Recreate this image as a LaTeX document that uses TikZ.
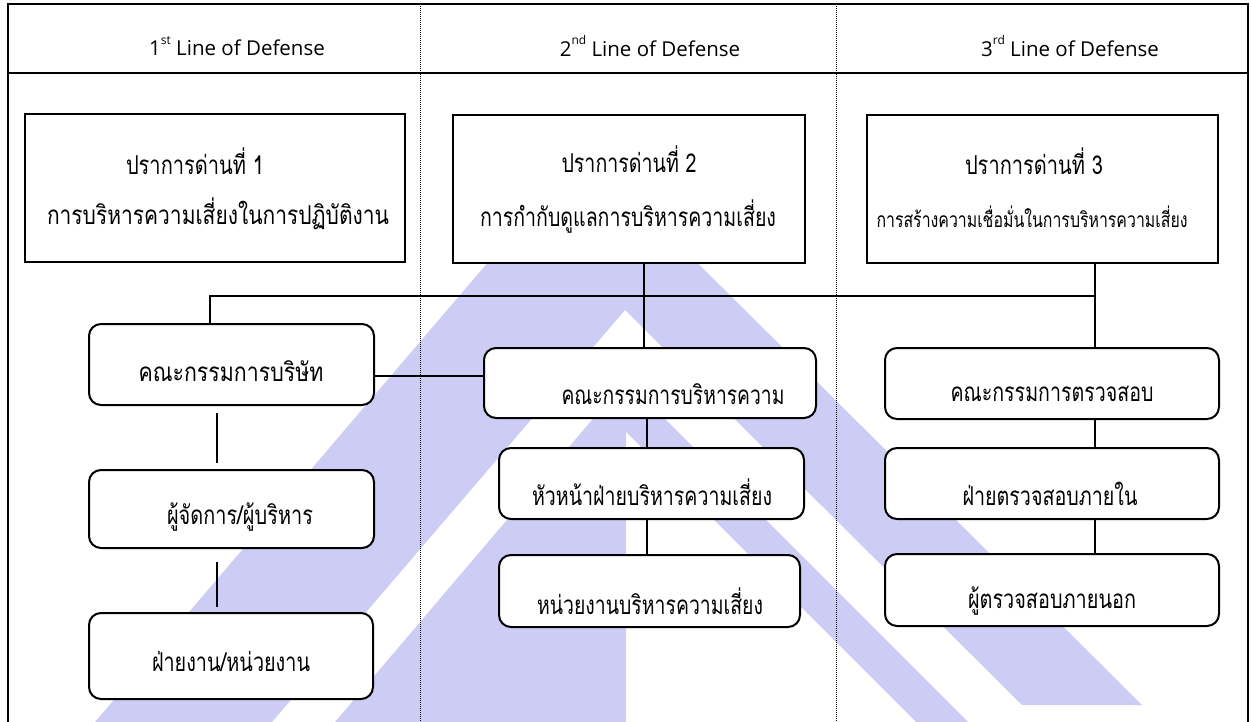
\documentclass[tikz,border=0pt]{standalone}
\usepackage{fontspec}
\setmainfont{Open Sans}
\newfontfamily\thaifont[Script=Thai]{Loma}
\usetikzlibrary{calc}
\definecolor{wm}{RGB}{204,204,245}
\newsavebox\fitbox
\newcommand\fitw[2]{\sbox\fitbox{#2}\pgfmathsetmacro\fitsx{#1/\wd\fitbox}\scalebox{\fitsx}[1]{\usebox\fitbox}}
\newcommand\sups[1]{\raisebox{0.55em}{\fontsize{12}{12}\selectfont #1}}
\tikzset{
  topbox/.style={draw=black, line width=2pt, fill=white, rectangle},
  rbox/.style={draw=black, line width=2pt, fill=white, rounded corners=12pt},
  conn/.style={draw=black, line width=1.6pt},
  lbl/.style={inner sep=0pt, font=\thaifont\fontsize{26}{30}\selectfont},
  hdr/.style={inner sep=0pt, font=\fontsize{20.5}{24}\selectfont},
}
\newcommand\boxat[5]{\node[#5, minimum width=#3pt-2pt, minimum height=#4pt-2pt, inner sep=0pt] (#1) at (#2) {};}
\begin{document}
\begin{tikzpicture}[x=1pt,y=-1pt]
\useasboundingbox (0,0) rectangle (1252,722);
\begin{scope}
\clip (0,0) rectangle (1252,722);
% watermark
\fill[wm] (95,722) -- (584,150) -- (1142,705) -- (1022,705) -- (625,310) -- (272,722) -- cycle;
\fill[wm] (626,380) -- (626,722) -- (335,722) -- cycle;
\fill[wm] (626,380) -- (968,722) -- (916,722) -- (626,432) -- cycle;
% frame
\draw[line width=2.4pt] (8,730) -- (8,4) -- (1248,4) -- (1248,730);
\draw[line width=2.4pt] (8,73) -- (1248,73);
\draw[line width=0.8pt, dash pattern=on 1pt off 1pt] (420,4) -- (420,730);
\draw[line width=0.8pt, dash pattern=on 1pt off 1pt] (836,4) -- (836,730);
\end{scope}
% headers
\node[hdr] (h1) at (237,46) {1\sups{st} Line of Defense};
\node[hdr] (h2) at (650,46) {2\sups{nd} Line of Defense};
\node[hdr] (h3) at (1070,46) {3\sups{rd} Line of Defense};
% top boxes
\boxat{t1}{215,188}{382}{150}{topbox}
\boxat{t2}{629,189}{354}{150}{topbox}
\boxat{t3}{1042.5,189}{353}{150}{topbox}
\node[lbl] (t1a) at (195,161) {\fitw{138}{ปราการด่านที่ 1}};
\node[lbl] (t1b) at (218,214) {\fitw{342}{การบริหารความเสี่ยงในการปฏิบัติงาน}};
\node[lbl] (t2a) at (629,159) {\fitw{135}{ปราการด่านที่ 2}};
\node[lbl] (t2b) at (628,217) {\fitw{296}{การกำกับดูแลการบริหารความเสี่ยง}};
\node[lbl] (t3a) at (1034,161) {\fitw{138}{ปราการด่านที่ 3}};
\node[lbl, font=\thaifont\fontsize{21}{24}\selectfont] (t3b) at (1032,217) {\fitw{311}{การสร้างความเชื่อมั่นในการบริหารความเสี่ยง}};
% rounded boxes
\boxat{a1}{231.5,364.5}{287}{83}{rbox}
\boxat{a2}{231.5,509}{287}{80}{rbox}
\boxat{a3}{231,656}{286}{88}{rbox}
\boxat{b1}{650,383}{334}{72}{rbox}
\boxat{b2}{651.5,483.5}{307}{73}{rbox}
\boxat{b3}{649.5,591}{303}{74}{rbox}
\boxat{c1}{1052,383.5}{336}{73}{rbox}
\boxat{c2}{1052,483.5}{336}{73}{rbox}
\boxat{c3}{1052,590}{336}{74}{rbox}
\node[lbl] (a1l) at (231,371) {\fitw{185}{คณะกรรมการบริษัท}};
\node[lbl] (a2l) at (240,517) {\fitw{146}{ผู้จัดการ/ผู้บริหาร}};
\node[lbl] (a3l) at (231,661) {\fitw{158}{ฝ่ายงาน/หน่วยงาน}};
\node[lbl] (b1l) at (673,394) {\fitw{223}{คณะกรรมการบริหารความ}};
\node[lbl] (b2l) at (652,492) {\fitw{240}{หัวหน้าฝ่ายบริหารความเสี่ยง}};
\node[lbl] (b3l) at (650,601) {\fitw{226}{หน่วยงานบริหารความเสี่ยง}};
\node[lbl] (c1l) at (1052,394) {\fitw{203}{คณะกรรมการตรวจสอบ}};
\node[lbl] (c2l) at (1050,494) {\fitw{175}{ฝ่ายตรวจสอบภายใน}};
\node[lbl] (c3l) at (1052,601) {\fitw{168}{ผู้ตรวจสอบภายนอก}};
% connectors
\coordinate (bus) at (0,296);
\coordinate (xl) at (210,0);
\coordinate (xm) at (644,0);
\coordinate (xr) at (1095,0);
\coordinate (xa) at (217,0);
\coordinate (xb) at (647,0);
\coordinate (ly) at (0,376);
\draw[conn] (a1.north -| xl) -- (bus -| xl) -- (bus -| xr);
\draw[conn] (t2.south -| xm) -- (b1.north -| xm);
\draw[conn] (t3.south -| xr) -- (c1.north -| xr);
\draw[conn] (a1.east |- ly) -- (b1.west |- ly);
\draw[conn, shorten <=7pt, shorten >=6pt] (a1.south -| xa) -- (a2.north -| xa);
\draw[conn, shorten <=13pt, shorten >=5pt] (a2.south -| xa) -- (a3.north -| xa);
\draw[conn] (b1.south -| xb) -- (b2.north -| xb);
\draw[conn] (b2.south -| xb) -- (b3.north -| xb);
\draw[conn] (c1.south -| xr) -- (c2.north -| xr);
\draw[conn] (c2.south -| xr) -- (c3.north -| xr);
\end{tikzpicture}
\end{document}
